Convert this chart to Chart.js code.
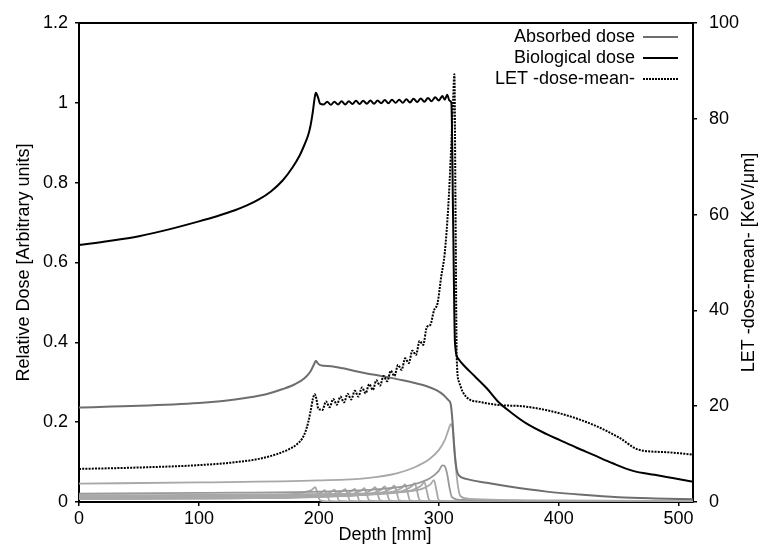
<!DOCTYPE html>
<html>
<head>
<meta charset="utf-8">
<script src="https://cdn.jsdelivr.net/npm/chart.js@4.4.1/dist/chart.umd.min.js"></script>
<style>
  html, body { margin: 0; padding: 0; background: #fff; }
  #wrap { width: 760px; height: 547px; position: relative; }
</style>
</head>
<body>
<div id="wrap"><canvas id="chart1"></canvas></div>
<script>
// biological dose (left axis)
const bioDepth = [0, 25, 50, 75, 100, 115, 130, 140, 150, 160, 170, 178, 184, 188, 191, 193, 195, 196.5, 197.5, 199.5,
  201, 204, 207, 210, 213, 216, 219, 222, 225, 228, 231, 234, 237, 240, 243, 246, 249, 252, 255, 258, 261,
  264, 267, 270, 273, 276, 279, 282, 285, 288, 291, 294, 297, 300, 303, 305, 307, 309, 310.5, 312, 313.5,
  316, 320, 330, 340, 350, 360, 373, 390, 401, 415, 429, 445, 462, 480, 495, 512];
const bioDose = [0.644, 0.654, 0.666, 0.683, 0.703, 0.716, 0.731, 0.743, 0.758, 0.778, 0.806, 0.838, 0.868, 0.895, 0.918, 0.942, 0.978, 1.012, 1.025, 1.012,
  0.998, 0.996, 1.003, 0.995, 1.003, 0.996, 1.004, 0.996, 1.004, 0.997, 1.005, 0.997, 1.005, 0.998, 1.006, 0.998, 1.006, 0.999, 1.007, 0.999, 1.008,
  1.0, 1.008, 1.0, 1.009, 1.001, 1.01, 1.002, 1.011, 1.003, 1.012, 1.004, 1.014, 1.006, 1.017, 1.008, 1.02, 1.005, 1.0, 0.7, 0.4,
  0.36, 0.345, 0.315, 0.285, 0.25, 0.225, 0.197, 0.17, 0.155, 0.136, 0.118, 0.097, 0.078, 0.068, 0.06, 0.051];

// absorbed dose (left axis)
const absDepth = [0, 50, 100, 120, 140, 156, 170, 180, 188, 193, 196, 197.5, 199, 201, 210, 220, 230, 240, 250, 260, 270, 280,
  290, 298, 304, 308, 310, 311.5, 313, 315, 317, 323, 340, 360, 390, 420, 450, 480, 512];
const absDose = [0.237, 0.241, 0.248, 0.253, 0.261, 0.27, 0.283, 0.295, 0.31, 0.327, 0.345, 0.354, 0.348, 0.343, 0.34, 0.335, 0.328, 0.322, 0.317, 0.311, 0.305, 0.298,
  0.29, 0.28, 0.268, 0.255, 0.245, 0.2, 0.13, 0.08, 0.066, 0.058, 0.048, 0.038, 0.026, 0.018, 0.012, 0.009, 0.007];

// LET dose-mean (right axis, keV/um)
const letDepth = [0, 50, 100, 130, 150, 165, 175, 182, 186, 189, 191, 193, 195, 196.5, 198, 199.5, 201,
  203, 206, 209, 212, 215, 218, 221, 224, 227, 230, 233, 236, 239, 242, 245, 248, 251, 254, 257, 260, 263, 266,
  269, 272, 275, 278, 281, 284, 287, 290, 293, 296, 299, 302, 305, 308, 310, 312, 313, 314, 315, 317, 320, 325,
  334, 348, 373, 401, 429, 450, 467, 490, 512];
const letValue = [6.9, 7.2, 7.7, 8.3, 9.0, 10.0, 11.0, 12.1, 13.2, 14.8, 16.5, 18.8, 21.5, 22.5, 21.5, 19.5, 19.3,
  19.2, 21, 19.8, 21.5, 20.3, 22, 20.8, 22.6, 21.4, 23.2, 22, 23.9, 22.7, 24.6, 23.4, 25.4, 24.3, 26.3, 25.2, 27.4, 26.3, 28.6,
  27.6, 30, 29, 31.6, 30.7, 33.6, 32.8, 36.5, 37, 40, 41.5, 47, 52, 62, 72, 84, 89.3, 60, 30, 25, 23, 21.5,
  20.9, 20.3, 19.9, 18.5, 16.1, 13.5, 10.9, 10.4, 9.9];

// pristine Bragg peaks [depth, dose]
const peak310 = [[0, 0.046], [100, 0.049], [200, 0.054], [240, 0.06], [265, 0.072], [280, 0.087], [292, 0.107], [300, 0.13], [305, 0.155],
  [308, 0.18], [310, 0.195], [311.5, 0.185], [313, 0.14], [314.5, 0.08], [316, 0.04], [318, 0.015], [325, 0.008], [400, 0.004], [512, 0.002]];
const peak304 = [[0, 0.021], [100, 0.023], [200, 0.026], [250, 0.032], [280, 0.045], [293, 0.06], [300, 0.078], [303, 0.092], [305, 0.09],
  [307, 0.07], [309, 0.035], [311, 0.012], [320, 0.005], [512, 0.001]];
const peak296 = [[0, 0.017], [216, 0.02], [266, 0.025], [286, 0.033], [293, 0.044], [296, 0.055], [298, 0.03], [300, 0.005], [308, 0.001], [512, 0]];
const peak288 = [[0, 0.015], [208, 0.017], [258, 0.022], [278, 0.03], [285, 0.04], [288, 0.05], [290, 0.028], [292, 0.005], [300, 0.001], [512, 0]];
const peak280 = [[0, 0.014], [200, 0.016], [250, 0.02], [270, 0.028], [277, 0.038], [280, 0.047], [282, 0.026], [284, 0.005], [292, 0.001], [512, 0]];
const peak272 = [[0, 0.013], [192, 0.015], [242, 0.019], [262, 0.026], [269, 0.035], [272, 0.044], [274, 0.024], [276, 0.004], [284, 0.001], [512, 0]];
const peak263 = [[0, 0.012], [183, 0.014], [233, 0.017], [253, 0.024], [260, 0.033], [263, 0.041], [265, 0.023], [267, 0.004], [275, 0.001], [512, 0]];
const peak255 = [[0, 0.011], [175, 0.013], [225, 0.016], [245, 0.022], [252, 0.031], [255, 0.039], [257, 0.021], [259, 0.004], [267, 0.001], [512, 0]];
const peak247 = [[0, 0.01], [167, 0.012], [217, 0.015], [237, 0.02], [244, 0.03], [247, 0.037], [249, 0.02], [251, 0.004], [259, 0.001], [512, 0]];
const peak238 = [[0, 0.01], [158, 0.012], [208, 0.015], [228, 0.02], [235, 0.028], [238, 0.035], [240, 0.019], [242, 0.004], [250, 0.001], [512, 0]];
const peak230 = [[0, 0.009], [150, 0.01], [200, 0.013], [220, 0.018], [227, 0.027], [230, 0.033], [232, 0.018], [234, 0.003], [242, 0.001], [512, 0]];
const peak222 = [[0, 0.009], [142, 0.01], [192, 0.013], [212, 0.018], [219, 0.026], [222, 0.032], [224, 0.018], [226, 0.003], [234, 0.001], [512, 0]];
const peak213 = [[0, 0.008], [133, 0.009], [183, 0.012], [203, 0.016], [210, 0.025], [213, 0.031], [215, 0.017], [217, 0.003], [225, 0.001], [512, 0]];
const peak205 = [[0, 0.008], [125, 0.009], [175, 0.012], [195, 0.016], [202, 0.024], [205, 0.03], [207, 0.017], [209, 0.003], [217, 0.001], [512, 0]];
const peak197 = [[0, 0.012], [117, 0.014], [167, 0.017], [187, 0.024], [194, 0.03], [197, 0.037], [199, 0.02], [201, 0.004], [209, 0.001], [512, 0]];

const legendLabels = ['Absorbed dose', 'Biological dose', 'LET -dose-mean-'];
const xTitle = 'Depth [mm]';
const yTitle = 'Relative Dose [Arbitrary units]';
const y2Title = 'LET -dose-mean- [KeV/\u03bcm]';

const FONT = '"Liberation Sans", Arial, sans-serif';

function zipXY(xs, ys) {
    return xs.map((x, i) => ({ x: x, y: ys[i] }));
}
function pairs(arr) {
    return arr.map(p => ({ x: p[0], y: p[1] }));
}

const pristine = [peak310, peak304, peak296, peak288, peak280, peak272, peak263, peak255, peak247, peak238, peak230, peak222, peak213, peak205, peak197];

const datasets = [{
    label: legendLabels[1],
    data: zipXY(bioDepth, bioDose),
    borderColor: '#000',
    borderWidth: 2,
    yAxisID: 'y'
}, {
    label: legendLabels[2],
    data: zipXY(letDepth, letValue),
    borderColor: '#000',
    borderWidth: 2,
    borderDash: [2, 1.2],
    yAxisID: 'y2'
}, {
    label: legendLabels[0],
    data: zipXY(absDepth, absDose),
    borderColor: '#6e6e6e',
    borderWidth: 2,
    yAxisID: 'y'
}];
pristine.forEach((pk, i) => {
    datasets.push({
        label: 'peak' + i,
        data: pairs(pk),
        borderColor: i === 1 ? '#999' : '#a8a8a8',
        borderWidth: 1.8,
        yAxisID: 'y'
    });
});

// frame, titles, legend
const decor = {
    id: 'decor',
    afterDraw(chart) {
        const ctx = chart.ctx;
        const a = chart.chartArea;
        ctx.save();
        ctx.strokeStyle = '#000';
        ctx.lineWidth = 2;
        ctx.beginPath();
        ctx.moveTo(a.left - 1, a.top);
        ctx.lineTo(a.right + 1, a.top);
        ctx.stroke();

        ctx.fillStyle = '#000';
        ctx.font = '18px ' + FONT;
        ctx.textAlign = 'center';
        ctx.textBaseline = 'middle';
        ctx.fillText(xTitle, 385, 535);

        const midY = (a.top + a.bottom) / 2;
        ctx.save();
        ctx.translate(24, midY);
        ctx.rotate(-Math.PI / 2);
        ctx.fillText(yTitle, 0, 0);
        ctx.restore();
        ctx.save();
        ctx.translate(749, midY);
        ctx.rotate(-Math.PI / 2);
        ctx.fillText(y2Title, 0, 0);
        ctx.restore();

        // legend
        ctx.textAlign = 'right';
        const rows = [
            { text: legendLabels[0], color: '#6e6e6e', dash: [] },
            { text: legendLabels[1], color: '#000', dash: [] },
            { text: legendLabels[2], color: '#000', dash: [2, 1] }
        ];
        rows.forEach((r, i) => {
            const y = 37 + i * 21;
            ctx.fillText(r.text, 635, y);
            ctx.strokeStyle = r.color;
            ctx.setLineDash(r.dash);
            ctx.lineWidth = 2;
            ctx.beginPath();
            ctx.moveTo(643, y);
            ctx.lineTo(678, y);
            ctx.stroke();
        });
        ctx.restore();
    }
};

const tickFont = { family: FONT, size: 18 };
const axisGrid = { display: true, drawOnChartArea: false, drawTicks: true, tickLength: 4, color: '#000', lineWidth: 1.5 };
const axisBorder = { display: true, color: '#000', width: 2 };

new Chart(document.getElementById('chart1'), {
    type: 'line',
    data: { datasets: datasets },
    options: {
        responsive: true,
        maintainAspectRatio: false,
        animation: false,
        parsing: false,
        normalized: true,
        elements: { point: { radius: 0 }, line: { cubicInterpolationMode: 'monotone' } },
        layout: { padding: { top: 23, left: 0, right: 0, bottom: 0 } },
        plugins: { legend: { display: false }, tooltip: { enabled: false } },
        scales: {
            x: {
                type: 'linear',
                min: 0,
                max: 512,
                grid: axisGrid,
                border: axisBorder,
                ticks: { stepSize: 100, includeBounds: false, color: '#000', font: tickFont, padding: 2, maxRotation: 0 },
                afterFit(s) { s.height = 45; }
            },
            y: {
                position: 'left',
                min: 0,
                max: 1.2,
                grid: axisGrid,
                border: axisBorder,
                ticks: { stepSize: 0.2, color: '#000', font: tickFont, padding: 7, callback: v => String(+v.toFixed(1)) },
                afterFit(s) { s.width = 79; }
            },
            y2: {
                position: 'right',
                min: 0,
                max: 100,
                grid: axisGrid,
                border: axisBorder,
                ticks: { stepSize: 20, color: '#000', font: tickFont, padding: 12 },
                afterFit(s) { s.width = 67; }
            }
        }
    },
    plugins: [decor]
});
</script>
</body>
</html>
